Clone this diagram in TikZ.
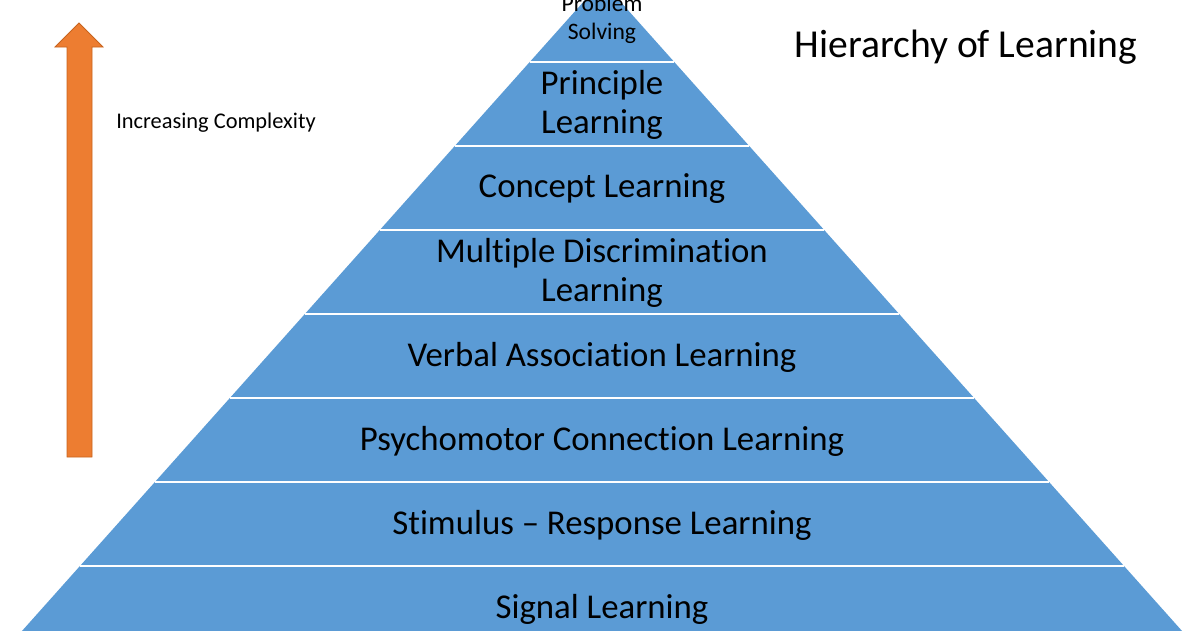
\documentclass[tikz,border=0pt]{standalone}
\usepackage{fontspec}
\setmainfont[Ligatures={NoCommon}]{Carlito}
\usetikzlibrary{positioning}

\definecolor{pyrblue}{HTML}{5B9BD5}
\definecolor{arrorange}{HTML}{ED7D31}
\definecolor{arredge}{HTML}{C8641E}

\begin{document}
\begin{tikzpicture}[x=1pt,y=-1pt,
  band/.style={font=\fontsize{34.8}{39}\selectfont, align=center, text=black},
  smallband/.style={font=\fontsize{23.6}{28}\selectfont, align=center, text=black}]
  \useasboundingbox (0,0) rectangle (1200,630);

  % pyramid, cut by the page edges
  \begin{scope}
    \clip (0,0) rectangle (1200,630);
    \fill[pyrblue] (602,-19) -- (1199,650) -- (5,650) -- cycle;
    \foreach \y in {62,146,230,314,398,482,566}
      \draw[white,line width=2pt] ({602-(\y+19)*0.893},\y) -- ({602+(\y+19)*0.893},\y);
    \node[smallband] (solving) at (602,19.5) {Problem\\Solving};
  \end{scope}

  % level labels
  \node[band] (principle) at (602,105) {Principle\\Learning};
  \node[band] (concept) at (602,189) {Concept Learning};
  \node[band] (multiple) at (602,273) {Multiple Discrimination\\Learning};
  \node[band] (verbal) at (602,357) {Verbal Association Learning};
  \node[band] (psycho) at (602,441) {Psychomotor Connection Learning};
  \node[band] (stimulus) at (602,525) {Stimulus -- Response Learning};
  \node[band] (signal) at (602,609) {Signal Learning};

  % complexity arrow
  \filldraw[fill=arrorange,draw=arredge,line width=0.8pt]
    (67,457) -- (67,47) -- (55,47) -- (79,23) -- (103,47) -- (92,47) -- (92,457) -- cycle;
  \node[font=\fontsize{22.4}{26}\selectfont] (complexity) at (216,123) {Increasing Complexity};

  \node[font=\fontsize{39.6}{46}\selectfont] (title) at (966,47) {Hierarchy of Learning};
\end{tikzpicture}
\end{document}
